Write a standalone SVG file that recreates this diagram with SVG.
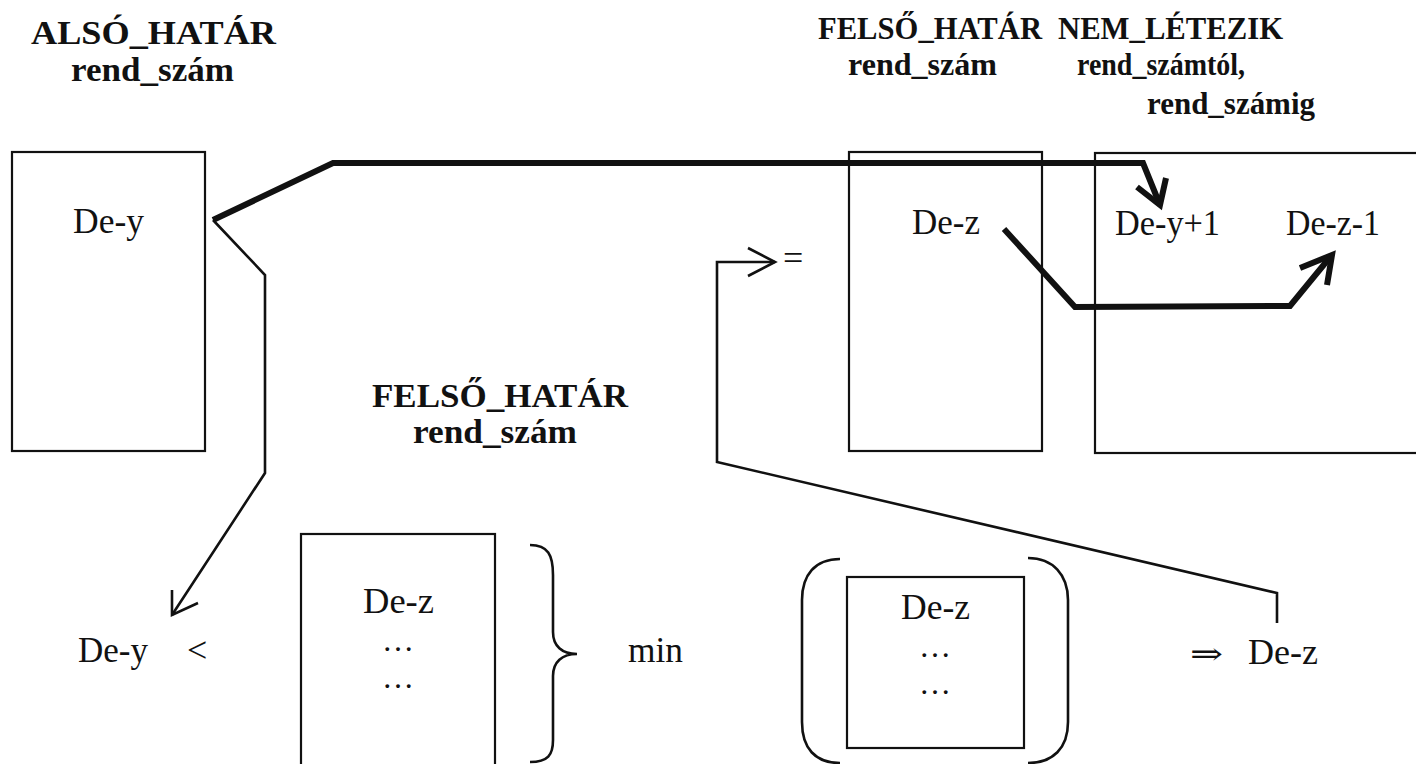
<svg xmlns="http://www.w3.org/2000/svg" width="1416" height="764" viewBox="0 0 1416 764">
<style>
.t{font-family:"Liberation Serif","Times New Roman",serif;fill:#111}
.b{font-weight:bold;font-size:34px}
.bs{font-weight:bold;font-size:31px}
.r{font-size:36px}
.dots{font-size:32px}
.box{fill:none;stroke:#111;stroke-width:2.2}
.thin{fill:none;stroke:#111;stroke-width:2.6;stroke-linejoin:miter}
.thick{fill:none;stroke:#111;stroke-width:6;stroke-linejoin:miter}
</style>
<rect width="1416" height="764" fill="#fff"/>
<g id="labels">
<text class="t b" x="31" y="44" textLength="245" lengthAdjust="spacingAndGlyphs">ALSÓ_HATÁR</text>
<text class="t b" x="71" y="81" textLength="163" lengthAdjust="spacingAndGlyphs">rend_szám</text>
<text class="t bs" x="818" y="39" textLength="224" lengthAdjust="spacingAndGlyphs">FELSŐ_HATÁR</text>
<text class="t bs" x="1058" y="39" textLength="225" lengthAdjust="spacingAndGlyphs">NEM_LÉTEZIK</text>
<text class="t bs" x="848" y="75" textLength="149" lengthAdjust="spacingAndGlyphs">rend_szám</text>
<text class="t bs" x="1077" y="75" textLength="168" lengthAdjust="spacingAndGlyphs">rend_számtól,</text>
<text class="t bs" x="1147" y="114" textLength="168" lengthAdjust="spacingAndGlyphs">rend_számig</text>
<text class="t b" x="372" y="407" textLength="256" lengthAdjust="spacingAndGlyphs">FELSŐ_HATÁR</text>
<text class="t b" x="413" y="443" textLength="164" lengthAdjust="spacingAndGlyphs">rend_szám</text>
</g>
<g id="node-also">
<rect class="box" x="12" y="152" width="193" height="299"/>
<text class="t r" x="73" y="233" textLength="71" lengthAdjust="spacingAndGlyphs">De-y</text>
</g>
<g id="node-felso">
<rect class="box" x="849" y="152" width="193" height="299"/>
<text class="t r" x="912" y="234" textLength="68" lengthAdjust="spacingAndGlyphs">De-z</text>
</g>
<g id="node-nem">
<rect class="box" x="1095" y="153" width="340" height="300"/>
<text class="t r" x="1115" y="235" textLength="105" lengthAdjust="spacingAndGlyphs">De-y+1</text>
<text class="t r" x="1286" y="235" textLength="94" lengthAdjust="spacingAndGlyphs">De-z-1</text>
</g>
<g id="node-eq">
<text class="t" style="font-size:36px" x="783" y="270">=</text>
</g>
<g id="node-compare">
<text class="t r" x="78" y="662" textLength="70" lengthAdjust="spacingAndGlyphs">De-y</text>
<text class="t r" x="187" y="662">&lt;</text>
</g>
<g id="node-set">
<rect class="box" x="301" y="534" width="194" height="250"/>
<text class="t r" x="363" y="613" textLength="71" lengthAdjust="spacingAndGlyphs">De-z</text>
<text class="t dots" x="398" y="651" text-anchor="middle">…</text>
<text class="t dots" x="398" y="688" text-anchor="middle">…</text>
<path class="thin" d="M530,545 C548,545 553,555 553,575 L553,632 C553,646 562,654 577,654 C562,654 553,662 553,676 L553,740 C553,755 548,762 530,762"/>
<text class="t r" x="628" y="662" textLength="55" lengthAdjust="spacingAndGlyphs">min</text>
</g>
<g id="node-paren">
<path class="thin" d="M840,559 C815,559 802,575 802,600 L802,722 C802,748 815,763 840,763"/>
<rect class="box" x="847" y="577" width="177" height="171"/>
<text class="t r" x="901" y="619" textLength="69" lengthAdjust="spacingAndGlyphs">De-z</text>
<text class="t dots" x="935" y="657" text-anchor="middle">…</text>
<text class="t dots" x="935" y="694" text-anchor="middle">…</text>
<path class="thin" d="M1028,558 C1053,558 1068,575 1068,600 L1068,722 C1068,748 1053,763 1028,763"/>
</g>
<g id="node-result">
<text class="t" style="font-family:'DejaVu Serif','Liberation Serif',serif;font-size:30px" x="1190" y="664" textLength="33" lengthAdjust="spacingAndGlyphs">⇒</text>
<text class="t r" x="1248" y="664" textLength="70" lengthAdjust="spacingAndGlyphs">De-z</text>
</g>
<g id="connectors">
<path class="thick" d="M213,220 L333,163 L1143,163 L1160,205"/>
<path class="thick" d="M1137,187 L1160,205 L1166,178"/>
<path class="thick" d="M1004,229 L1075,307 L1290,306 L1331,256"/>
<path class="thick" d="M1300,268 L1332,255 L1327,285"/>
<path class="thin" d="M213,220 L265,275 L265,473 L172,615"/>
<path class="thin" d="M172,590 L172,615 L198,603"/>
<path class="thin" d="M1277,623 L1277,593 L717,462 L717,262 L775,262"/>
<path class="thin" d="M748,248 L775,262 L748,276"/>
</g>
</svg>
